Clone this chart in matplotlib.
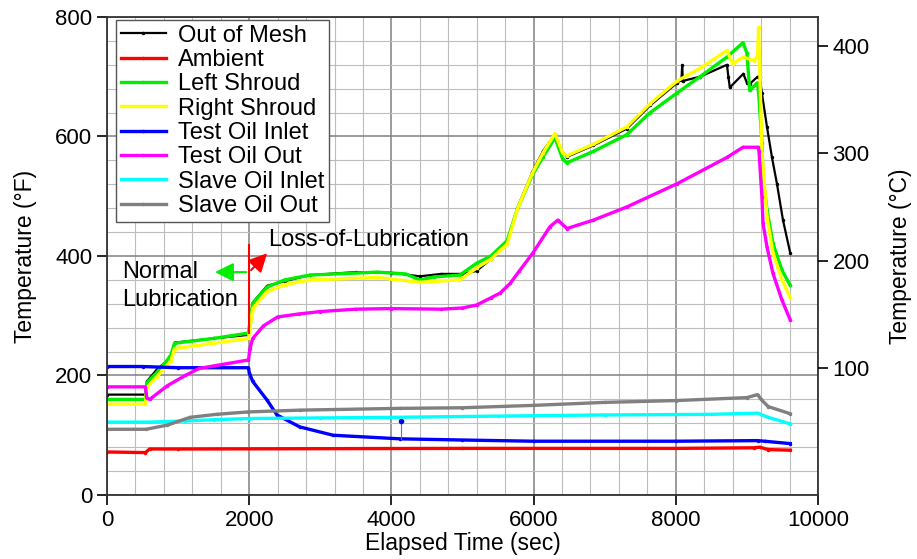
import matplotlib
matplotlib.use("Agg")
import matplotlib.pyplot as plt
from matplotlib.ticker import MultipleLocator

# * Data, temperatures in deg F
meshTime = [0, 540, 560, 700, 850, 900, 950, 1500, 1990, 2010, 2050, 2250, 2500, 2850, 3500, 4000,
            4400, 4700, 5000, 5200, 5400, 5530, 5630, 5770, 5980, 6130, 6300, 6410, 6470, 6840, 7310,
            7640, 8020, 8080, 8090, 8100, 8340, 8720, 8740, 8760, 8950, 9000, 9040, 9150, 9180, 9212,
            9283, 9353, 9423, 9508, 9610]
meshTemp = [168, 168, 190, 210, 225, 232, 255, 262, 268, 290, 322, 350, 358, 368, 373, 372,
            366, 370, 370, 375, 395, 412, 425, 480, 540, 575, 604, 572, 566, 585, 613,
            652, 690, 695, 719, 693, 700, 720, 700, 682, 705, 690, 688, 700, 700, 672,
            616, 565, 521, 460, 405]

ambientTime = [0, 540, 600, 1000, 5000, 8000, 9100, 9180, 9300, 9610]
ambientTemp = [72, 71, 77, 77, 78, 78, 79, 80, 76, 75]

leftTime = [0, 540, 560, 700, 850, 900, 950, 1500, 1990, 2010, 2050, 2250, 2500, 2850, 3800, 4200,
            4400, 4600, 4960, 5200, 5400, 5630, 5770, 5980, 6130, 6300, 6410, 6470, 6840, 7310, 7640,
            8020, 8340, 8720, 8945, 9000, 9040, 9150, 9170, 9212, 9227, 9283, 9367, 9494, 9610]
leftTemp = [160, 160, 188, 205, 226, 235, 254, 262, 271, 290, 321, 348, 360, 368, 373, 370,
            360, 365, 368, 388, 400, 426, 478, 535, 565, 598, 562, 556, 575, 603, 640,
            673, 700, 733, 757, 740, 677, 690, 666, 589, 532, 477, 421, 376, 351]

rightTime = [0, 540, 560, 700, 850, 900, 950, 1500, 1990, 2010, 2050, 2250, 2500, 2850, 3800, 4400,
             4960, 5200, 5400, 5630, 5770, 5980, 6130, 6300, 6410, 6470, 6840, 7310, 7640, 8020,
             8340, 8720, 8800, 8950, 9100, 9150, 9165, 9184, 9212, 9283, 9367, 9494, 9610]
rightTemp = [152, 152, 180, 198, 218, 225, 245, 254, 262, 280, 312, 340, 352, 360, 364, 356,
             360, 380, 395, 420, 478, 538, 572, 605, 572, 568, 587, 616, 655, 693,
             714, 744, 722, 733, 727, 735, 783, 700, 572, 465, 405, 360, 330]

oilInTime = [0, 500, 1000, 1990, 2000, 2050, 2250, 2390, 2710, 3180, 4120, 5000, 6000,
             8000, 9150, 9250, 9610]
oilInTemp = [215, 215, 213, 213, 205, 190, 159, 134, 114, 100, 94, 92, 90,
             90, 91, 90, 86]
# single stray reading of the oil inlet sensor
oilInSpikeTime = [4130, 4130]
oilInSpikeTemp = [94, 124]

oilOutTime = [0, 540, 560, 600, 850, 1100, 1300, 1550, 1990, 2010, 2050, 2200, 2400, 2700, 3000,
              3500, 4000, 4700, 5000, 5200, 5400, 5530, 5670, 5800, 5990, 6230, 6340, 6470, 6840,
              7310, 8020, 8720, 8945, 9160, 9170, 9212, 9227, 9283, 9367, 9494, 9610]
oilOutTemp = [181, 181, 162, 160, 183, 200, 212, 217, 226, 245, 262, 283, 298, 303, 307,
              311, 312, 311, 313, 318, 330, 338, 354, 375, 405, 449, 460, 446, 460,
              482, 521, 565, 582, 582, 576, 498, 455, 415, 371, 326, 293]

slaveInTime = [0, 600, 1100, 1500, 2000, 3000, 4000, 5500, 7000, 8500, 9150, 9300, 9610]
slaveInTemp = [122, 122, 124, 126, 128, 129, 130, 132, 134, 135, 137, 130, 119]

slaveOutTime = [0, 550, 850, 1170, 1540, 1980, 2710, 4120, 5000, 6000, 7000, 8000, 9000, 9150,
                9200, 9300, 9610]
slaveOutTemp = [110, 110, 117, 130, 135, 139, 142, 145, 146, 150, 155, 158, 163, 168,
                160, 148, 136]

labels = ["Out of Mesh", "Ambient", "Left Shroud", "Right Shroud", "Test Oil Inlet",
          "Test Oil Out", "Slave Oil Inlet", "Slave Oil Out"]
colors = ["#000000", "#ff0000", "#00ee00", "#ffff00", "#0000ff", "#ff00ff", "#00ffff", "#808080"]

# loss-of-lubrication event
lolTime = 2000

# * Plot
plt.rcParams["font.family"] = ["Liberation Sans", "DejaVu Sans"]

fig = plt.figure(figsize=(9.17, 5.59), dpi=100)
ax = fig.add_subplot(111)
fig.subplots_adjust(left=0.1167, right=0.892, bottom=0.1145, top=0.9696)

series = [(meshTime, meshTemp), (ambientTime, ambientTemp), (leftTime, leftTemp),
          (rightTime, rightTemp), (oilInTime, oilInTemp), (oilOutTime, oilOutTemp),
          (slaveInTime, slaveInTemp), (slaveOutTime, slaveOutTemp)]
for i, (t, v) in enumerate(series):
    lw = 1.6 if i == 0 else 2.4
    ax.plot(t, v, color=colors[i], lw=lw, marker=".", markersize=3, label=labels[i])
    if i == 4:
        ax.plot(oilInSpikeTime, oilInSpikeTemp, color="#6060ff", lw=0.8)
        ax.plot(oilInSpikeTime[1:], oilInSpikeTemp[1:], color=colors[4], marker="o", markersize=3)

ax.set_xlim(0, 10000)
ax.set_ylim(0, 800)
ax.xaxis.set_major_locator(MultipleLocator(2000))
ax.xaxis.set_minor_locator(MultipleLocator(400))
ax.yaxis.set_major_locator(MultipleLocator(200))
ax.yaxis.set_minor_locator(MultipleLocator(40))
ax.grid(which="major", color="#808080", lw=1.1)
ax.grid(which="minor", color="#bdbdbd", lw=0.8)
ax.set_axisbelow(True)
ax.tick_params(which="major", direction="out", length=7, width=1.2, labelsize=16)
ax.tick_params(which="minor", length=0)
for s in ax.spines.values():
    s.set_color("#333333")
    s.set_linewidth(1.3)

ax.set_xlabel("Elapsed Time (sec)", fontsize=16.5, labelpad=1)
ax.set_ylabel("Temperature (\u00b0F)", fontsize=16.5, labelpad=13)

# right axis in deg C
ax2 = ax.twinx()
ax2.set_ylim((0 - 32) * 5 / 9, (800 - 32) * 5 / 9)
ax2.set_yticks([100, 200, 300, 400])
ax2.tick_params(direction="out", length=7, width=1.2, labelsize=16)
ax2.set_ylabel("Temperature (\u00b0C)", fontsize=16.5, labelpad=14)
for s in ax2.spines.values():
    s.set_visible(False)

# annotations
ax.plot([lolTime, lolTime], [271, 418], color="#ff0000", lw=1.5, zorder=5)
ax.annotate("", xy=(1480, 373), xytext=(lolTime, 373),
            arrowprops=dict(arrowstyle="-|>", color="#00ee00", lw=1.5, mutation_scale=28), zorder=6)
ax.annotate("", xy=(2280, 408), xytext=(lolTime, 373),
            arrowprops=dict(arrowstyle="-|>", color="#ff0000", lw=1.5, mutation_scale=28), zorder=6)
ax.text(2260, 427, "Loss-of-Lubrication", fontsize=17, va="center", ha="left", zorder=6)
ax.text(210, 373, "Normal", fontsize=17, va="center", ha="left", zorder=6)
ax.text(210, 326, "Lubrication", fontsize=17, va="center", ha="left", zorder=6)

leg = ax.legend(loc="upper left", bbox_to_anchor=(0.013, 0.994), fontsize=17, frameon=True,
                fancybox=False, edgecolor="#555555", framealpha=1, handlelength=1.9,
                handletextpad=0.5, labelspacing=0.1, borderpad=0.2, borderaxespad=0)
leg.get_frame().set_linewidth(1.0)

plt.savefig("out.png", dpi=100)
